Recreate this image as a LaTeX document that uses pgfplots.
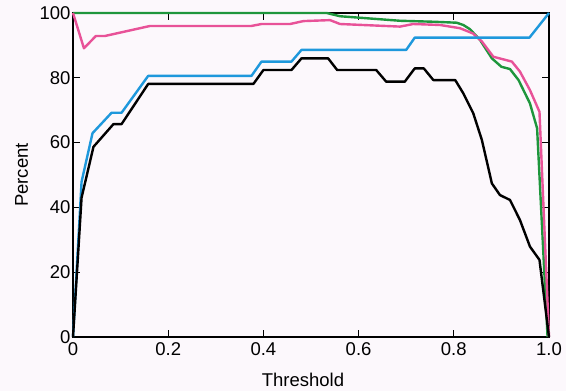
\documentclass[border=0pt]{standalone}
\usepackage{pgfplots}
\pgfplotsset{compat=1.18}
\usepackage{fontspec}
\setmainfont{Liberation Sans}
\usetikzlibrary{backgrounds}
\definecolor{bgc}{RGB}{252,248,252}
\definecolor{cgreen}{RGB}{30,150,60}
\definecolor{cpink}{RGB}{232,82,152}
\definecolor{cblue}{RGB}{30,152,220}
\begin{document}
\begin{tikzpicture}[show background rectangle, inner frame sep=0pt,
  background rectangle/.style={fill=bgc,draw=none}]
\begin{axis}[
  at={(0,0)}, anchor=south west,
  scale only axis, width=476pt, height=324pt,
  xmin=0, xmax=1, ymin=0, ymax=100,
  xtick={0,0.2,0.4,0.6,0.8,1.0},
  xticklabels={0,0.2,0.4,0.6,0.8,1.0},
  ytick={0,20,40,60,80,100},
  tick pos=both, tick align=inside, major tick length=7pt,
  tick style={black, line width=1pt},
  axis line style={line width=1.3pt},
  font=\fontsize{18.5}{22}\selectfont,
  /pgf/number format/assume math mode=true,
  xticklabel style={yshift=-2pt},
  yticklabel style={xshift=1pt},
  xlabel={Threshold}, ylabel={Percent},
  every axis x label/.style={at={([yshift=-50pt,xshift=-8pt]axis description cs:0.5,0)}, anchor=base},
  every axis y label/.style={at={([xshift=-45pt]axis description cs:0,0.5)}, rotate=90, anchor=base},
  clip=false,
  every axis plot/.append style={line width=2.4pt, line join=round},
]
\addplot[cgreen] coordinates {
(0,100) (0.533,100) (0.561,99.0) (0.687,97.6) (0.757,97.3) (0.806,97.0)
(0.82,96.3) (0.834,95) (0.855,91.7) (0.88,86) (0.90,83.4) (0.918,82.7)
(0.936,79.3) (0.96,72.1) (0.975,64.4) (0.997,0)
};
\addplot[cpink] coordinates {
(0,100) (0.023,89.1) (0.048,92.9) (0.067,92.9) (0.162,96) (0.375,96)
(0.396,96.6) (0.456,96.6) (0.484,97.5) (0.54,97.8) (0.561,96.6) (0.687,95.8)
(0.715,96.6) (0.771,96.3) (0.813,95.3) (0.84,93.7) (0.859,91.2) (0.883,86.5)
(0.922,85) (0.939,81.9) (0.96,76.2) (0.98,69.5) (1.0,0)
};
\addplot[cblue] coordinates {
(0,0) (0.018,47.9) (0.041,62.9) (0.081,69.2) (0.102,69.2) (0.158,80.6)
(0.375,80.6) (0.396,85) (0.459,85) (0.48,88.6) (0.70,88.6) (0.718,92.4)
(0.959,92.4) (1.0,100)
};
\addplot[black] coordinates {
(0,0) (0.018,43) (0.043,58.7) (0.085,65.7) (0.102,65.7) (0.158,78.1)
(0.379,78.1) (0.40,82.4) (0.459,82.4) (0.48,86) (0.536,86) (0.555,82.4)
(0.637,82.4) (0.658,78.8) (0.697,78.8) (0.718,82.9) (0.737,82.9) (0.757,79.3)
(0.803,79.3) (0.82,75.2) (0.841,69) (0.859,60.8) (0.88,47.4) (0.897,43.8)
(0.918,42.3) (0.939,36.1) (0.96,27.9) (0.98,23.8) (1.0,0)
};
\end{axis}
\path (-73pt,-53pt) rectangle (493pt,337pt);
\end{tikzpicture}
\end{document}
